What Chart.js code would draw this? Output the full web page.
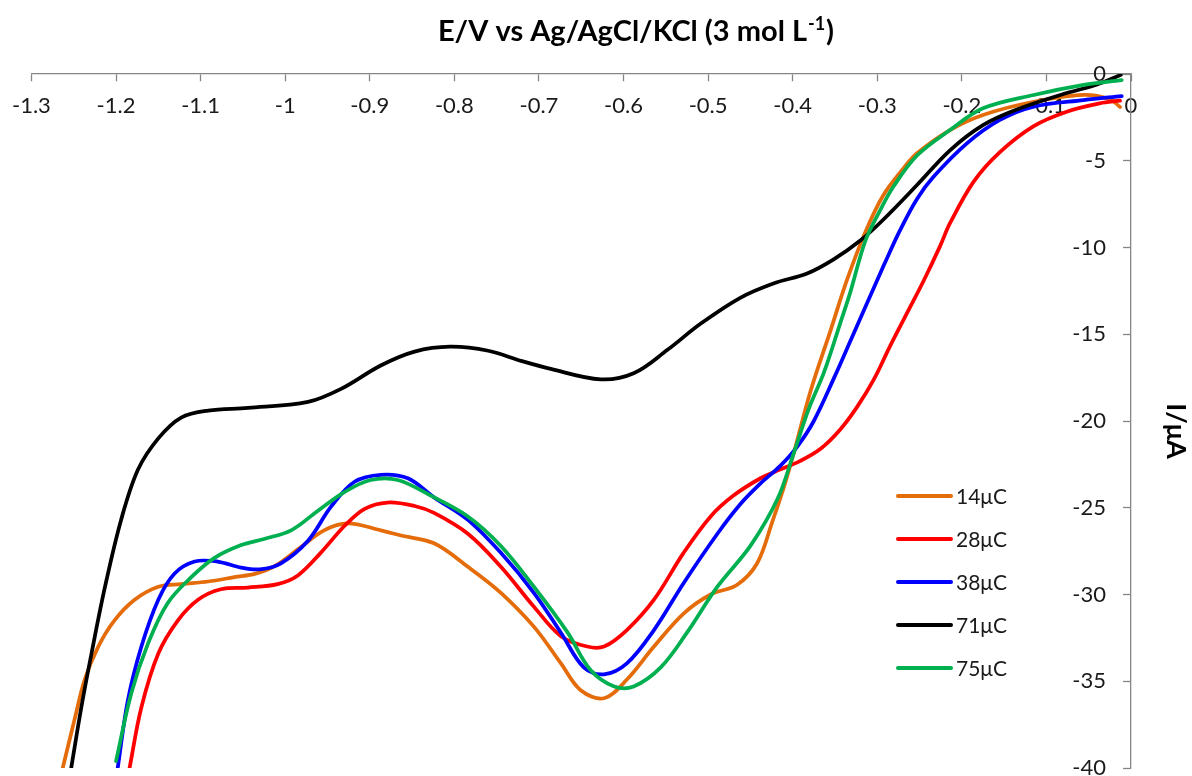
<!DOCTYPE html>
<html>
<head>
<meta charset="utf-8">
<script src="https://cdn.jsdelivr.net/npm/chart.js@4.4.0/dist/chart.umd.min.js"></script>
<style>
  html, body { margin: 0; padding: 0; background: #fff; }
</style>
</head>
<body>
<canvas id="cv" width="1192" height="776"></canvas>
<script>
const FONT = 'Lato, "Noto Sans", "DejaVu Sans", sans-serif';
const AXIS_COLOR = '#868686';

const seriesNames = ['14μC', '28μC', '38μC', '71μC', '75μC'];
const seriesColors = ['#E46C0A', '#FF0000', '#0000FF', '#000000', '#00B050'];

// potential (V) and current (µA)
const e14 = [-1.263, -1.249, -1.237, -1.221, -1.202, -1.178, -1.150, -1.123, -1.091, -1.060, -1.035, -1.012, -0.985, -0.954, -0.926, -0.887, -0.863, -0.824, -0.784, -0.745, -0.706, -0.674, -0.651, -0.623, -0.596, -0.564, -0.529, -0.497, -0.466, -0.442, -0.424, -0.411, -0.399, -0.379, -0.355, -0.336, -0.314, -0.293, -0.270, -0.253, -0.214, -0.175, -0.115, -0.056, -0.025, -0.013];
const i14 = [-40, -37.2, -34.9, -33.0, -31.5, -30.3, -29.55, -29.4, -29.25, -29.0, -28.8, -28.35, -27.4, -26.3, -25.9, -26.3, -26.6, -27.05, -28.4, -29.9, -31.85, -33.97, -35.5, -35.98, -34.9, -33.0, -31.1, -30.0, -29.45, -28.2, -25.8, -23.9, -21.9, -18.3, -14.75, -11.9, -9.1, -7.0, -5.5, -4.57, -3.23, -2.36, -1.6, -1.2, -1.45, -1.9];

const e28 = [-1.184, -1.170, -1.150, -1.127, -1.103, -1.076, -1.044, -1.009, -0.985, -0.958, -0.930, -0.906, -0.879, -0.847, -0.824, -0.784, -0.745, -0.706, -0.674, -0.643, -0.623, -0.596, -0.564, -0.529, -0.497, -0.470, -0.438, -0.415, -0.391, -0.367, -0.344, -0.324, -0.304, -0.285, -0.265, -0.245, -0.226, -0.214, -0.186, -0.155, -0.115, -0.076, -0.037, -0.013];
const i28 = [-40, -36.5, -33.4, -31.5, -30.3, -29.7, -29.6, -29.4, -28.9, -27.6, -26.05, -25.06, -24.7, -24.9, -25.3, -26.5, -28.4, -30.7, -32.4, -33.0, -33.0, -32.05, -30.3, -27.6, -25.5, -24.3, -23.3, -22.8, -22.3, -21.6, -20.5, -19.2, -17.6, -15.7, -13.8, -11.9, -9.95, -8.6, -6.2, -4.5, -3.0, -2.17, -1.69, -1.54];

const e38 = [-1.198, -1.186, -1.170, -1.150, -1.131, -1.107, -1.080, -1.052, -1.030, -1.005, -0.973, -0.946, -0.918, -0.887, -0.855, -0.824, -0.784, -0.745, -0.706, -0.674, -0.647, -0.623, -0.596, -0.564, -0.529, -0.489, -0.462, -0.438, -0.415, -0.395, -0.375, -0.350, -0.331, -0.312, -0.292, -0.273, -0.253, -0.233, -0.194, -0.155, -0.115, -0.056, -0.011];
const i38 = [-40, -36.1, -33.0, -30.3, -28.8, -28.1, -28.1, -28.45, -28.55, -28.2, -26.9, -24.95, -23.5, -23.1, -23.3, -24.4, -25.7, -27.6, -29.9, -32.2, -34.2, -34.6, -33.97, -32.05, -29.35, -26.5, -24.8, -23.6, -22.6, -21.5, -20.0, -17.4, -15.3, -13.2, -11.0, -9.0, -7.2, -5.9, -4.0, -2.65, -1.88, -1.5, -1.27];

const e71 = [-1.253, -1.241, -1.229, -1.213, -1.194, -1.174, -1.150, -1.123, -1.091, -1.044, -0.973, -0.934, -0.887, -0.847, -0.805, -0.760, -0.720, -0.686, -0.627, -0.588, -0.548, -0.509, -0.462, -0.422, -0.383, -0.352, -0.320, -0.293, -0.253, -0.214, -0.175, -0.135, -0.076, -0.040, -0.012];
const i71 = [-40, -36.5, -33.4, -29.55, -25.7, -22.8, -21.0, -19.8, -19.4, -19.25, -18.9, -18.15, -16.8, -16.0, -15.72, -15.95, -16.55, -17.0, -17.6, -17.25, -15.9, -14.4, -12.9, -12.06, -11.5, -10.7, -9.6, -8.4, -6.4, -4.4, -2.95, -2.05, -1.1, -0.6, -0.05];

const e75 = [-1.200, -1.182, -1.162, -1.139, -1.111, -1.084, -1.052, -1.025, -0.993, -0.962, -0.930, -0.899, -0.867, -0.828, -0.784, -0.745, -0.706, -0.666, -0.639, -0.611, -0.588, -0.556, -0.525, -0.489, -0.450, -0.418, -0.399, -0.381, -0.363, -0.344, -0.332, -0.314, -0.296, -0.281, -0.253, -0.214, -0.175, -0.115, -0.056, -0.011];
const i75 = [-39.6, -35.7, -32.8, -30.5, -29.0, -27.9, -27.15, -26.8, -26.3, -25.2, -24.1, -23.4, -23.4, -24.3, -25.5, -27.2, -29.55, -32.2, -34.35, -35.3, -35.3, -34.2, -32.2, -29.55, -27.2, -24.5, -21.9, -19.3, -17.2, -14.4, -12.6, -9.6, -7.8, -6.5, -4.7, -3.23, -1.98, -1.21, -0.63, -0.35];

const potentials = [e14, e28, e38, e71, e75];
const currents = [i14, i28, i38, i71, i75];

const titleMain = 'E/V vs Ag/AgCl/KCl (3 mol L';
const titleSup = '-1';
const titleEnd = ')';
const yTitle = 'I/μA';

const fmt = v => String(Math.round(v * 10) / 10);

// Excel-style decorations: title, rotated y title, y tick labels, legend
const decorPlugin = {
  id: 'excel-decor',
  beforeDatasetsDraw(chart) {
    const ctx = chart.ctx;
    const y = chart.scales.y;
    const axisX = chart.scales.x.getPixelForValue(0);
    ctx.save();
    ctx.font = '22px ' + FONT;
    ctx.fillStyle = '#1a1a1a';
    ctx.textAlign = 'right';
    ctx.textBaseline = 'middle';
    for (const t of y.ticks) {
      ctx.fillText(fmt(t.value), axisX - 25, y.getPixelForValue(t.value));
    }
    ctx.restore();
  },
  afterDraw(chart) {
    const ctx = chart.ctx;
    ctx.save();
    ctx.fillStyle = '#000';
    ctx.textBaseline = 'alphabetic';
    ctx.textAlign = 'left';

    // title with superscript
    const big = 'bold 29px ' + FONT, small = 'bold 18px ' + FONT;
    ctx.font = big;
    const w1 = ctx.measureText(titleMain).width;
    const w3 = ctx.measureText(titleEnd).width;
    ctx.font = small;
    const w2 = ctx.measureText(titleSup).width;
    let tx = 635 - (w1 + w2 + w3) / 2;
    ctx.font = big;
    ctx.fillText(titleMain, tx, 41);
    ctx.font = small;
    ctx.fillText(titleSup, tx + w1 + 1, 30);
    ctx.font = big;
    ctx.fillText(titleEnd, tx + w1 + w2 + 2, 41);

    // y axis title, rotated clockwise
    ctx.save();
    ctx.translate(1176, 431);
    ctx.rotate(Math.PI / 2);
    ctx.font = 'bold 27px ' + FONT;
    ctx.textAlign = 'center';
    ctx.textBaseline = 'middle';
    ctx.fillText(yTitle, 0, 0);
    ctx.restore();

    // legend
    ctx.font = '21px ' + FONT;
    ctx.textBaseline = 'middle';
    ctx.lineCap = 'round';
    ctx.lineWidth = 4;
    chart.data.datasets.forEach((ds, k) => {
      const ly = 496 + k * 43;
      ctx.strokeStyle = ds.borderColor;
      ctx.beginPath();
      ctx.moveTo(898, ly);
      ctx.lineTo(951, ly);
      ctx.stroke();
      ctx.fillStyle = '#1a1a1a';
      ctx.fillText(ds.label, 956, ly + 1);
    });
    ctx.restore();
  },
};

const datasets = seriesNames.map((name, k) => ({
  label: name,
  data: potentials[k].map((e, j) => ({ x: e, y: currents[k][j] })),
  borderColor: seriesColors[k],
  backgroundColor: seriesColors[k],
  borderWidth: 3.75,
  pointRadius: 0,
  fill: false,
  tension: 0.35,
  borderCapStyle: 'round',
  borderJoinStyle: 'round',
  order: seriesNames.length - 1 - k,
}));

const gridOpts = {
  drawOnChartArea: false,
  drawTicks: true,
  tickLength: 7,
  tickWidth: 1.3,
  color: AXIS_COLOR,
};

new Chart(document.getElementById('cv'), {
  type: 'line',
  data: { datasets },
  options: {
    responsive: false,
    animation: false,
    layout: { padding: { left: 30, right: 61, top: 74, bottom: 8 } },
    plugins: {
      legend: { display: false },
      title: { display: false },
      tooltip: { enabled: false },
    },
    scales: {
      x: {
        type: 'linear',
        position: { y: 0 },
        min: -1.3,
        max: 0,
        ticks: {
          stepSize: 0.1,
          autoSkip: false,
          maxRotation: 0,
          padding: 12,
          color: '#1a1a1a',
          font: { family: FONT, size: 22 },
          callback: fmt,
        },
        grid: gridOpts,
        border: { display: true, color: AXIS_COLOR, width: 1.3 },
      },
      y: {
        type: 'linear',
        position: { x: 0 },
        min: -40,
        max: 0,
        ticks: { stepSize: 5, display: false },
        grid: gridOpts,
        border: { display: true, color: AXIS_COLOR, width: 1.3 },
      },
    },
  },
  plugins: [decorPlugin],
});
</script>
</body>
</html>
